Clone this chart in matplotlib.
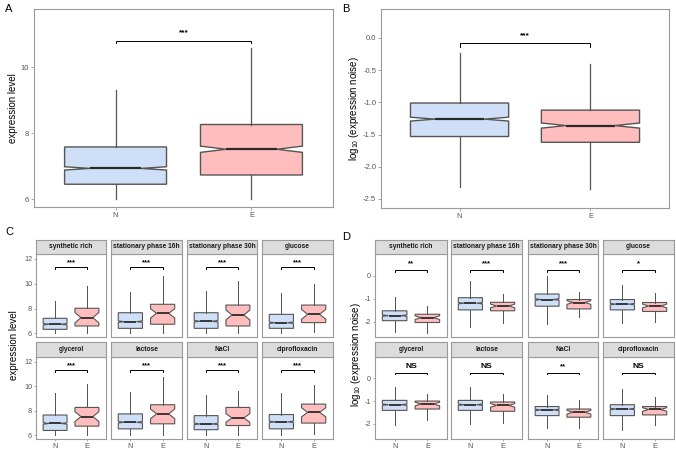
import matplotlib
matplotlib.use("Agg")
import matplotlib.pyplot as plt

plt.rcParams['font.family'] = ['Liberation Sans', 'DejaVu Sans']
plt.rcParams['mathtext.fontset'] = 'custom'
plt.rcParams['mathtext.rm'] = 'Liberation Sans'
plt.rcParams['mathtext.it'] = 'Liberation Sans:italic'

# ---------------- data ----------------
groups = ["N", "E"]
colors = ["#cfdff7", "#ffbdbd"]

# Panel A: expression level (N, E)
A_whislo = [6.0, 6.0]
A_q1 = [6.45, 6.73]
A_med = [6.93, 7.51]
A_q3 = [7.58, 8.26]
A_whishi = [9.32, 10.57]
A_notch = [0.05, 0.095]
A_sig = "***"

# Panel B: log10 expression noise (N, E)
B_whislo = [-2.31, -2.34]
B_q1 = [-1.53, -1.62]
B_med = [-1.26, -1.36]
B_q3 = [-1.01, -1.12]
B_whishi = [-0.23, -0.41]
B_notch = [0.03, 0.04]
B_sig = "***"

conditions = ["synthetic rich", "stationary phase 16h", "stationary phase 30h", "glucose",
              "glycerol", "lactose", "NaCl", "ciprofloxacin"]

# Panel C: expression level per condition
C_N_whislo = [6.0, 6.0, 6.0, 6.0, 6.0, 6.0, 6.0, 6.0]
C_N_q1 = [6.32, 6.40, 6.40, 6.40, 6.40, 6.53, 6.46, 6.53]
C_N_med = [6.73, 6.94, 6.97, 6.85, 6.97, 7.07, 6.93, 7.10]
C_N_q3 = [7.21, 7.66, 7.66, 7.53, 7.66, 7.75, 7.61, 7.70]
C_N_whishi = [8.60, 9.30, 9.44, 9.23, 9.44, 9.50, 9.30, 9.44]
C_N_notch = [0.06, 0.06, 0.06, 0.06, 0.06, 0.06, 0.06, 0.06]
C_E_whislo = [6.0, 6.0, 6.0, 6.13, 6.0, 6.0, 6.0, 6.13]
C_E_q1 = [6.59, 6.73, 6.59, 6.86, 6.75, 6.94, 6.80, 7.00]
C_E_med = [7.26, 7.61, 7.48, 7.53, 7.53, 7.75, 7.42, 7.88]
C_E_q3 = [8.02, 8.34, 8.28, 8.28, 8.28, 8.50, 8.28, 8.55]
C_E_whishi = [9.84, 10.60, 10.20, 10.00, 10.20, 10.80, 9.60, 10.10]
C_E_notch = [0.42, 0.37, 0.40, 0.40, 0.40, 0.40, 0.35, 0.37]
C_sig = ["***", "***", "***", "***", "***", "***", "***", "***"]

# Panel D: log10 expression noise per condition
D_N_whislo = [-2.46, -2.22, -2.10, -2.04, -2.07, -2.03, -2.17, -2.29]
D_N_q1 = [-1.96, -1.49, -1.33, -1.49, -1.41, -1.41, -1.64, -1.64]
D_N_med = [-1.74, -1.20, -1.04, -1.24, -1.16, -1.16, -1.39, -1.35]
D_N_q3 = [-1.53, -0.96, -0.80, -1.04, -0.97, -0.97, -1.24, -1.16]
D_N_whishi = [-0.93, -0.23, 0.0, -0.40, -0.36, -0.36, -0.72, -0.45]
D_N_notch = [0.03, 0.03, 0.03, 0.03, 0.03, 0.03, 0.03, 0.03]
D_E_whislo = [-2.48, -2.04, -1.82, -2.00, -1.82, -1.96, -2.18, -2.04]
D_E_q1 = [-2.04, -1.53, -1.45, -1.56, -1.35, -1.45, -1.71, -1.61]
D_E_med = [-1.83, -1.32, -1.17, -1.32, -1.13, -1.19, -1.49, -1.37]
D_E_q3 = [-1.68, -1.16, -1.04, -1.17, -1.00, -1.04, -1.35, -1.24]
D_E_whishi = [-1.31, -0.80, -0.70, -0.74, -0.69, -0.69, -0.95, -0.83]
D_E_notch = [0.08, 0.08, 0.08, 0.08, 0.08, 0.08, 0.08, 0.08]
D_sig = ["**", "***", "***", "*", "NS", "NS", "**", "NS"]

# ---------------- styling ----------------
W, H = 676, 450
EDGE = "#555555"
BORDER = "#9a9a9a"
TICKC = "#555555"
TITLE_FS = 7.0


def rect(x0, y0, x1, y1):
    return [x0 / W, 1 - y1 / H, (x1 - x0) / W, (y1 - y0) / H]


def make_stats(wl, q1, med, q3, wh, nh):
    return [dict(whislo=wl[i], q1=q1[i], med=med[i], q3=q3[i], whishi=wh[i],
                 cilo=med[i] - nh[i], cihi=med[i] + nh[i], fliers=[]) for i in range(2)]


def draw_box(ax, stats, lw=0.8, mlw=1.4):
    bp = ax.bxp(stats, positions=[1, 2], widths=0.75, shownotches=True,
                showfliers=False, showcaps=False, patch_artist=True,
                boxprops=dict(edgecolor=EDGE, linewidth=lw),
                whiskerprops=dict(color=EDGE, linewidth=lw * 0.9),
                medianprops=dict(color="#2a2a2a", linewidth=mlw))
    for p, c in zip(bp['boxes'], colors):
        p.set_facecolor(c)
    ax.set_xlim(0.4, 2.6)


def style_ax(ax, fs, showx=True, showy=True, tlen=2.2):
    for s in ax.spines.values():
        s.set_color(BORDER)
        s.set_linewidth(0.8)
    ax.tick_params(axis='both', colors=BORDER, labelcolor=TICKC, labelsize=fs,
                   length=tlen, width=0.6, pad=1.2)
    ax.set_xticks([1, 2])
    if showx:
        ax.set_xticklabels(groups)
    else:
        ax.set_xticklabels([])
        ax.tick_params(axis='x', length=0)
    if not showy:
        ax.set_yticklabels([])
        ax.tick_params(axis='y', length=0)


def bracket(ax, y, drop, label, text_y, fs, bold=True):
    ax.plot([1, 1, 2, 2], [y - drop, y, y, y - drop], color="black", lw=0.7,
            solid_joinstyle='miter')
    ax.text(1.5, text_y, label, ha='center', va='center', fontsize=fs,
            fontweight='bold' if bold else 'normal', color='black')


fig = plt.figure(figsize=(W / 100, H / 100), dpi=100)

# ---- Panel A ----
axA = fig.add_axes(rect(34, 9, 333, 207))
draw_box(axA, make_stats(A_whislo, A_q1, A_med, A_q3, A_whishi, A_notch), lw=1.0, mlw=1.6)
axA.set_ylim(5.76, 11.76)
axA.set_yticks([6, 8, 10])
style_ax(axA, 5.5)
bracket(axA, 10.80, 0.08, A_sig, 11.04, 6)
axA.set_ylabel("expression level", fontsize=TITLE_FS, labelpad=2)
fig.text(5 / W, 1 - 9 / H, "A", fontsize=8, va='center', ha='left')

# ---- Panel B ----
axB = fig.add_axes(rect(381, 9, 669, 208))
draw_box(axB, make_stats(B_whislo, B_q1, B_med, B_q3, B_whishi, B_notch), lw=1.0, mlw=1.6)
axB.set_ylim(-2.64, 0.45)
axB.set_yticks([0.0, -0.5, -1.0, -1.5, -2.0, -2.5])
axB.set_yticklabels(["0.0", "-0.5", "-1.0", "-1.5", "-2.0", "-2.5"])
style_ax(axB, 5.5)
bracket(axB, -0.08, 0.06, B_sig, 0.04, 6)
axB.set_ylabel(r"log$_{10}$ (expression noise)", fontsize=TITLE_FS, labelpad=1.5)
fig.text(342 / W, 1 - 9 / H, "B", fontsize=8, va='center', ha='left')

# ---- Facets ----
C_cols = [(36, 106), (111, 182), (187, 257), (262, 333)]
D_cols = [(375, 447), (451, 522), (528, 598), (603, 674)]
rows = [(240, 254, 337), (342, 357, 439)]


def facet(cols, ylim, yticks, ytlabels, data, sigs, by, drop, ty, sigfs):
    for k, cond in enumerate(conditions):
        r, c = divmod(k, 4)
        x0, x1 = cols[c]
        s0, s1, p1 = rows[r]
        ax = fig.add_axes(rect(x0, s1, x1, p1))
        st = make_stats(*[[d[0][k], d[1][k]] for d in data])
        draw_box(ax, st, lw=0.8, mlw=1.3)
        ax.set_ylim(*ylim)
        ax.set_yticks(yticks)
        ax.set_yticklabels(ytlabels)
        style_ax(ax, 5.2, showx=(r == 1), showy=(c == 0), tlen=1.6)
        bracket(ax, by, drop, sigs[k], ty, sigfs if sigs[k] != "NS" else sigfs + 0.5)
        sax = fig.add_axes(rect(x0, s0, x1, s1))
        sax.set_xticks([]); sax.set_yticks([])
        sax.set_facecolor("#dcdcdc")
        for sp in sax.spines.values():
            sp.set_color(BORDER); sp.set_linewidth(0.8)
        sax.text(0.5, 0.5, cond, ha='center', va='center', fontsize=4.8,
                 fontweight='bold', color="#1a1a1a", transform=sax.transAxes)


C_data = [(C_N_whislo, C_E_whislo), (C_N_q1, C_E_q1), (C_N_med, C_E_med),
          (C_N_q3, C_E_q3), (C_N_whishi, C_E_whishi), (C_N_notch, C_E_notch)]
facet(C_cols, (5.7, 12.4), [6, 8, 10, 12], ["6", "8", "10", "12"], C_data, C_sig,
      11.37, 0.18, 11.7, 5.5)
fig.text(14 / W, 1 - 345 / H, "expression level", rotation=90, ha='center', va='center',
         fontsize=TITLE_FS)
fig.text(5 / W, 1 - 232 / H, "C", fontsize=8, va='center', ha='left')

D_data = [(D_N_whislo, D_E_whislo), (D_N_q1, D_E_q1), (D_N_med, D_E_med),
          (D_N_q3, D_E_q3), (D_N_whishi, D_E_whishi), (D_N_notch, D_E_notch)]
facet(D_cols, (-2.67, 0.94), [0, -1, -2], ["0", "-1", "-2"], D_data, D_sig,
      0.25, 0.08, 0.51, 5.5)
fig.text(356 / W, 1 - 355 / H, r"log$_{10}$ (expression noise)", rotation=90, ha='center',
         va='center', fontsize=TITLE_FS)
fig.text(342 / W, 1 - 237 / H, "D", fontsize=8, va='center', ha='left')

fig.savefig("out.png", dpi=100)
